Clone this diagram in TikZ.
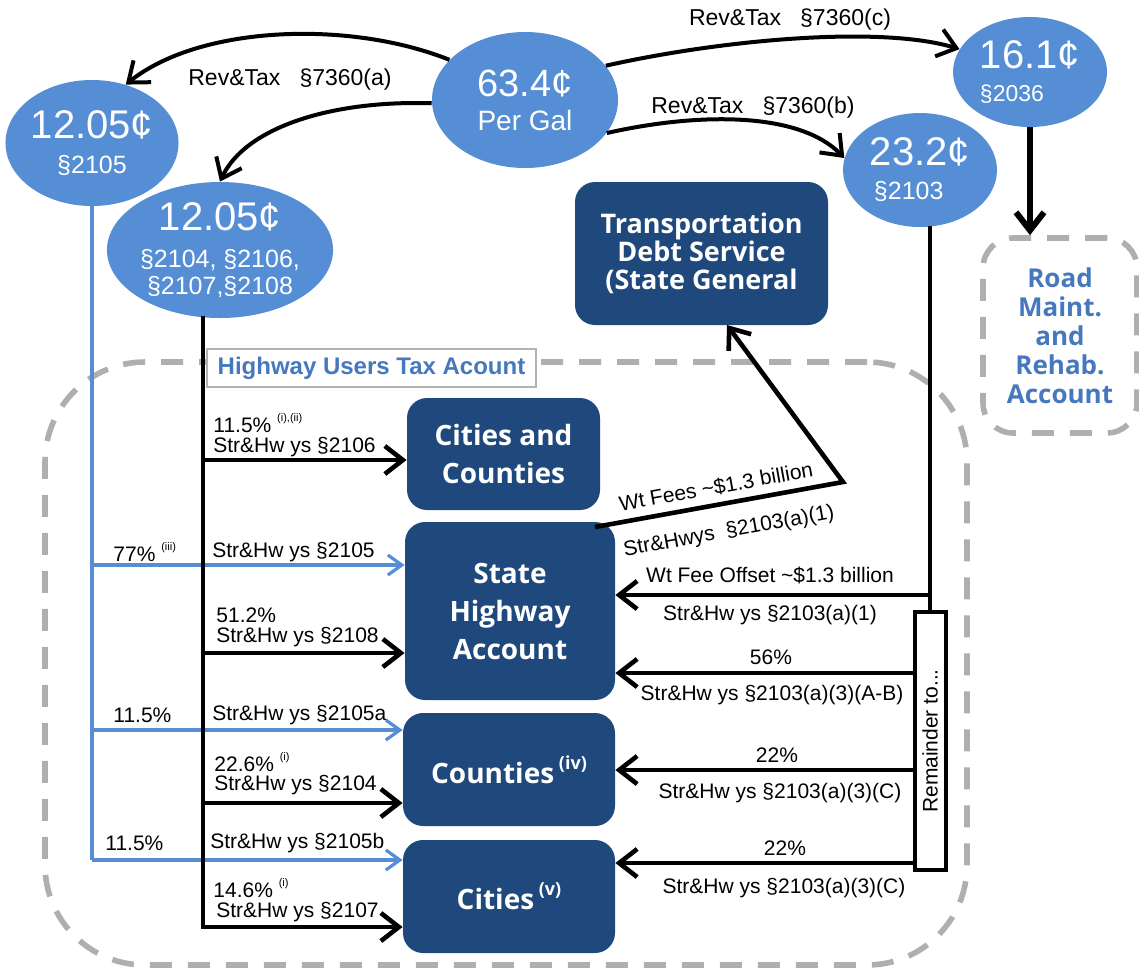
\documentclass[tikz,border=0pt]{standalone}
\usepackage{fontspec}
\setmainfont{Liberation Sans}
\newfontfamily\boxfont{Open Sans}
\usetikzlibrary{arrows.meta,shapes.geometric}
\definecolor{ellblue}{RGB}{85,142,213}
\definecolor{navy}{RGB}{31,73,125}
\definecolor{labblue}{RGB}{70,120,190}
\definecolor{dgray}{RGB}{175,175,175}
\newcommand{\mysup}[1]{\raisebox{0.55em}{\fontsize{5.5}{6}\selectfont #1}}
\newcommand{\bxsup}[1]{\raisebox{0.5em}{\fontsize{9}{10}\selectfont #1}}
\begin{document}
\begin{tikzpicture}[x=0.5pt,y=-0.5pt,
  ell/.style={ellipse, fill=ellblue, text=white, inner sep=0pt},
  navybox/.style={rounded corners=10pt, fill=navy, text=white, inner sep=0pt, align=center,
     font=\boxfont\bfseries\fontsize{14}{19}\selectfont},
  dashbox/.style={draw=dgray, line width=2.8pt, dash pattern=on 11pt off 8pt},
  blk/.style={line width=2.3pt, black},
  blkarrow/.style={blk, -{Straight Barb[length=9pt,width=14pt]}},
  bluln/.style={line width=1.6pt, ellblue},
  bluarrow/.style={bluln, -{Straight Barb[length=7pt,width=10pt]}},
  lbl/.style={font=\fontsize{10.5}{12}\selectfont, inner sep=0pt},
  toplbl/.style={font=\fontsize{11.5}{13}\selectfont, inner sep=0pt},
]
\useasboundingbox (0,0) rectangle (1139,971);

% dashed account regions
\node[dashbox, rounded corners=50pt, minimum width=461pt, minimum height=301.5pt] (huta) at (506,663.5) {};
\node[draw=gray!60, line width=0.8pt, fill=white, minimum width=164.5pt, minimum height=19pt, inner sep=0pt,
      text=labblue, font=\bfseries\fontsize{12}{14}\selectfont] (hutalbl) at (371.5,368) {Highway Users Tax Acount};
\node[dashbox, rounded corners=15pt, minimum width=77pt, minimum height=97.5pt, align=center,
      text=labblue, font=\boxfont\bfseries\fontsize{13}{14.5}\selectfont] (road) at (1060,335.5)
      {Road\\Maint.\\and\\Rehab.\\Account};

% ellipses
\node[ell, minimum width=93pt, minimum height=68pt, align=center, font=\fontsize{14}{17}\selectfont] (T) at (525,100)
  {{\fontsize{19}{19}\selectfont 63.4¢}\\Per Gal};
\node[ell, minimum width=84pt, minimum height=63pt, align=center, font=\fontsize{12.5}{17.5}\selectfont] (L) at (92,143)
  {{\fontsize{20}{20}\selectfont 12.05¢}\\§2105};
\node[ell, minimum width=108pt, minimum height=68pt, align=center, font=\fontsize{12.5}{13.5}\selectfont] (M) at (220,250)
  {{\fontsize{20}{20}\selectfont 12.05¢}\\[5pt]§2104, §2106,\\§2107,§2108};
\node[ell, minimum width=77pt, minimum height=57pt, align=left, font=\fontsize{12.5}{17}\selectfont] (R1) at (920,170)
  {{\fontsize{20}{20}\selectfont 23.2¢}\\\hspace*{2pt}§2103};
\node[ell, minimum width=77pt, minimum height=55pt, align=left, font=\fontsize{11.5}{16.5}\selectfont] (R2) at (1030,72)
  {{\fontsize{20}{20}\selectfont 16.1¢}\\§2036};

% dark boxes
\node[navybox, minimum width=126.5pt, minimum height=71.5pt, font=\boxfont\bfseries\fontsize{13.5}{14}\selectfont] (TDS) at (701.5,253.5)
  {Transportation\\Debt Service\\(State General};
\node[navybox, minimum width=96.5pt, minimum height=56pt] (CC) at (503.5,454) {Cities and\\Counties};
\node[navybox, minimum width=105pt, minimum height=89pt] (SHA) at (510,611) {State\\Highway\\Account};
\node[navybox, minimum width=106pt, minimum height=56.5pt] (CO) at (509,769.5) {Counties\,\bxsup{(iv)}};
\node[navybox, minimum width=106pt, minimum height=56.5pt] (CI) at (509,896.5) {Cities\,\bxsup{(v)}};

% remainder box
\node[draw, line width=2pt, fill=white, minimum width=15.5pt, minimum height=129pt, inner sep=0pt] (rem) at (930,741)
  {\rotatebox{90}{\fontsize{10.5}{12}\selectfont Remainder to...}};

% top curved arrows
\draw[blkarrow, line width=2pt] (T.152) .. controls (350,20) and (200,25) .. (L.60);
\draw[blkarrow, line width=2pt] (T.182) .. controls (330,100) and (245,128) .. (M.north);
\draw[blkarrow, line width=2pt] (T.338) .. controls (700,112) and (800,112) .. (R1.171);
\draw[blkarrow, line width=2pt] (T.23) .. controls (720,40) and (880,25) .. (R2.162);
\node[toplbl] (ta) at (290,80) {Rev\&Tax\ \ \ §7360(a)};
\node[toplbl] (tb) at (753,108) {Rev\&Tax\ \ \ §7360(b)};
\node[toplbl] (tc) at (790,20) {Rev\&Tax\ \ \ §7360(c)};

% road arrow
\draw[blkarrow, line width=3pt] (R2.south) -- (R2.south |- road.north);

% blue distribution
\coordinate (b1) at (92,565);
\coordinate (b2) at (92,730);
\coordinate (b3) at (92,860);
\draw[bluln] (L.south) -- (b3);
\draw[bluarrow] (b1) -- (b1 -| SHA.west);
\draw[bluarrow] (b2) -- (b2 -| CO.west);
\draw[bluarrow] (b3) -- (b3 -| CI.west);

% black distribution
\coordinate (k0) at (203,316);
\coordinate (k1) at (203,460);
\coordinate (k2) at (203,653);
\coordinate (k3) at (203,803);
\coordinate (k4) at (203,927);
\draw[blk] (k0) -- ([yshift=-1.15pt]k4);
\draw[blkarrow] (k1) -- (k1 -| CC.west);
\draw[blkarrow] (k2) -- (k2 -| SHA.west);
\draw[blkarrow] (k3) -- (k3 -| CO.west);
\draw[blkarrow] (k4) -- (k4 -| CI.west);

% left labels
\node[lbl, anchor=west] (l1a) at (213,423) {11.5\% \mysup{(i),(ii)}};
\node[lbl, anchor=west] (l1b) at (213,447) {Str\&Hw ys §2106};
\node[lbl, anchor=west] (l2a) at (113,552) {77\% \mysup{(iii)}};
\node[lbl, anchor=west] (l2b) at (212,552) {Str\&Hw ys §2105};
\node[lbl, anchor=west] (l3a) at (216,615) {51.2\%};
\node[lbl, anchor=west] (l3b) at (216,637) {Str\&Hw ys §2108};
\node[lbl, anchor=west] (l4a) at (113,715) {11.5\%};
\node[lbl, anchor=west] (l4b) at (212,715) {Str\&Hw ys §2105a};
\node[lbl, anchor=west] (l5a) at (214,762) {22.6\% \mysup{(i)}};
\node[lbl, anchor=west] (l5b) at (214,785) {Str\&Hw ys §2104};
\node[lbl, anchor=west] (l6a) at (105,843) {11.5\%};
\node[lbl, anchor=west] (l6b) at (210,843) {Str\&Hw ys §2105b};
\node[lbl, anchor=west] (l7a) at (213,888) {14.6\% \mysup{(i)}};
\node[lbl, anchor=west] (l7b) at (216,912) {Str\&Hw ys §2107};

% right distribution
\coordinate (r0) at (930,226);
\coordinate (r1) at (930,595);
\coordinate (q1) at (930,673);
\coordinate (q2) at (930,770);
\coordinate (q3) at (930,863);
\draw[blk] (r0) -- (rem.north);
\draw[blkarrow] (r1) -- (r1 -| SHA.east);
\draw[blkarrow] (q1 -| rem.west) -- (q1 -| SHA.east);
\draw[blkarrow] (q2 -| rem.west) -- (q2 -| CO.east);
\draw[blkarrow] (q3 -| rem.west) -- (q3 -| CI.east);

\node[lbl] (r1a) at (770,575) {Wt Fee Offset \textasciitilde\$1.3 billion};
\node[lbl] (r1b) at (770,615) {Str\&Hw ys §2103(a)(1)};
\node[lbl] (q1a) at (771,657) {56\%};
\node[lbl] (q1b) at (772,695) {Str\&Hw ys §2103(a)(3)(A-B)};
\node[lbl] (q2a) at (777,755) {22\%};
\node[lbl] (q2b) at (780,793) {Str\&Hw ys §2103(a)(3)(C)};
\node[lbl] (q3a) at (785,848) {22\%};
\node[lbl] (q3b) at (784,888) {Str\&Hw ys §2103(a)(3)(C)};

% weight fees to debt service
\coordinate (w0) at (595,527);
\coordinate (w1) at (843,482);
\coordinate (w2) at (727,325);
\draw[blkarrow] (w0) -- (w1) -- (w2);
\node[lbl, rotate=10.3] (wa) at (716,487) {Wt Fees \textasciitilde\$1.3 billion};
\node[lbl, rotate=10.3] (wb) at (729,532) {Str\&Hwys\ \ §2103(a)(1)};
\end{tikzpicture}
\end{document}
